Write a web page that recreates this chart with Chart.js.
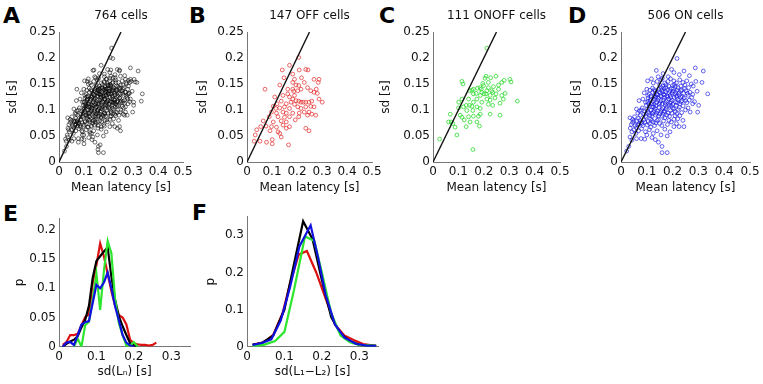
<!DOCTYPE html>
<html lang="en">
<head>
<meta charset="UTF-8">
<title>Latency variability</title>
<script src="https://cdn.jsdelivr.net/npm/chart.js@4.4.1/dist/chart.umd.min.js"></script>
<style>
  body { margin: 0; background: #fff; }
  #fig { position: relative; width: 763px; height: 384px; overflow: hidden; }
  #fig canvas { position: absolute; }
  .tag { position: absolute; font: bold 22px 'DejaVu Sans', sans-serif; line-height: 22px; color: #000; }
</style>
</head>
<body>
<div id="fig">
  <div class="tag" style="left:3px;top:5px">A</div>
  <div class="tag" style="left:189px;top:5px">B</div>
  <div class="tag" style="left:379px;top:5px">C</div>
  <div class="tag" style="left:568px;top:5px">D</div>
  <div class="tag" style="left:3px;top:203px">E</div>
  <div class="tag" style="left:192px;top:202px">F</div>
</div>

<script>
// [mean latency, sd] per cell
const offCells = [
  [0.170,0.186],[0.141,0.177],[0.207,0.201],[0.209,0.177],[0.235,0.178],[0.244,0.177],[0.183,0.169],[0.148,0.162],
  [0.190,0.159],[0.218,0.162],[0.072,0.140],[0.268,0.159],[0.288,0.159],[0.285,0.153],[0.183,0.153],[0.196,0.148],
  [0.207,0.147],[0.229,0.153],[0.131,0.148],[0.163,0.140],[0.183,0.140],[0.187,0.136],[0.203,0.137],[0.216,0.140],
  [0.242,0.143],[0.255,0.137],[0.268,0.134],[0.281,0.132],[0.277,0.140],[0.111,0.125],[0.144,0.128],[0.170,0.125],
  [0.190,0.128],[0.163,0.131],[0.196,0.118],[0.207,0.117],[0.216,0.115],[0.225,0.115],[0.235,0.115],[0.248,0.115],
  [0.259,0.117],[0.301,0.115],[0.288,0.121],[0.183,0.121],[0.176,0.115],[0.190,0.111],[0.157,0.112],[0.137,0.117],
  [0.120,0.112],[0.105,0.107],[0.115,0.103],[0.131,0.104],[0.150,0.106],[0.170,0.103],[0.203,0.106],[0.216,0.103],
  [0.235,0.106],[0.255,0.107],[0.268,0.106],[0.229,0.096],[0.248,0.096],[0.098,0.096],[0.118,0.094],[0.144,0.096],
  [0.157,0.094],[0.183,0.094],[0.209,0.094],[0.259,0.092],[0.275,0.090],[0.089,0.087],[0.124,0.087],[0.150,0.086],
  [0.170,0.087],[0.207,0.087],[0.242,0.090],[0.065,0.079],[0.105,0.077],[0.137,0.079],[0.157,0.077],[0.193,0.081],
  [0.055,0.068],[0.076,0.069],[0.098,0.068],[0.118,0.067],[0.144,0.071],[0.157,0.065],[0.170,0.068],[0.039,0.062],
  [0.092,0.060],[0.124,0.058],[0.235,0.065],[0.248,0.060],[0.033,0.052],[0.137,0.048],[0.029,0.040],[0.052,0.040],
  [0.078,0.038],[0.101,0.043],[0.101,0.035],[0.166,0.033],[0.131,0.055]
];

const onoffCells = [
  [0.212,0.219],[0.026,0.044],[0.094,0.052],[0.157,0.024],[0.114,0.155],[0.118,0.150],[0.144,0.137],[0.153,0.138],
  [0.159,0.131],[0.175,0.142],[0.196,0.151],[0.205,0.161],[0.227,0.162],[0.209,0.165],[0.231,0.137],[0.218,0.143],
  [0.212,0.137],[0.192,0.134],[0.186,0.128],[0.170,0.132],[0.199,0.147],[0.248,0.165],[0.280,0.157],[0.303,0.159],
  [0.307,0.154],[0.271,0.153],[0.258,0.148],[0.284,0.132],[0.271,0.128],[0.244,0.123],[0.225,0.128],[0.235,0.134],
  [0.248,0.131],[0.235,0.109],[0.218,0.111],[0.264,0.113],[0.277,0.121],[0.332,0.117],[0.192,0.115],[0.173,0.121],
  [0.159,0.115],[0.140,0.121],[0.131,0.109],[0.144,0.109],[0.120,0.106],[0.101,0.104],[0.133,0.099],[0.157,0.099],
  [0.186,0.092],[0.179,0.088],[0.225,0.092],[0.264,0.090],[0.107,0.090],[0.114,0.086],[0.140,0.087],[0.146,0.077],
  [0.173,0.077],[0.183,0.069],[0.131,0.068],[0.068,0.092],[0.071,0.077],[0.061,0.077],[0.087,0.067],[0.078,0.074],
  [0.123,0.081],[0.159,0.088],[0.101,0.115],[0.114,0.121],[0.159,0.140],[0.186,0.143],[0.218,0.153],[0.238,0.145],
  [0.201,0.131],[0.190,0.140],[0.209,0.131],[0.258,0.140],[0.225,0.119],[0.212,0.121],[0.173,0.106],[0.153,0.107],
  [0.186,0.103]
];

const onCells = [
  [0.217,0.199],[0.137,0.176],[0.144,0.164],[0.183,0.164],[0.244,0.175],[0.288,0.181],[0.319,0.175],[0.205,0.172],
  [0.226,0.168],[0.163,0.170],[0.196,0.178],[0.265,0.166],[0.103,0.156],[0.118,0.160],
  [0.125,0.152],[0.140,0.155],[0.155,0.158],[0.170,0.152],[0.182,0.155],[0.192,0.160],[0.205,0.156],[0.215,0.152],
  [0.228,0.158],[0.240,0.153],[0.255,0.156],[0.272,0.150],[0.290,0.155],[0.314,0.153],[0.150,0.148],[0.162,0.146],
  [0.175,0.149],[0.200,0.147],[0.210,0.145],[0.232,0.146],[0.248,0.148],[0.262,0.143],[0.280,0.146],[0.160,0.161],
  [0.100,0.140],[0.112,0.138],[0.122,0.142],[0.132,0.136],[0.145,0.140],[0.152,0.133],[0.158,0.138],[0.166,0.142],
  [0.172,0.135],[0.180,0.139],[0.187,0.133],[0.195,0.141],[0.202,0.136],[0.208,0.131],[0.218,0.138],[0.225,0.133],
  [0.235,0.139],[0.243,0.132],[0.252,0.137],[0.268,0.134],[0.278,0.130],[0.295,0.136],[0.336,0.131],[0.138,0.131],
  [0.165,0.130],[0.190,0.128],[0.215,0.127],[0.260,0.128],[0.090,0.133],[0.128,0.127],
  [0.070,0.118],[0.085,0.121],[0.095,0.115],[0.105,0.123],[0.113,0.118],[0.120,0.112],[0.130,0.120],[0.138,0.115],
  [0.146,0.123],[0.155,0.118],[0.160,0.112],[0.168,0.124],[0.176,0.117],[0.184,0.121],[0.190,0.113],[0.198,0.119],
  [0.206,0.124],[0.212,0.115],[0.220,0.120],[0.228,0.112],[0.237,0.118],[0.245,0.123],[0.255,0.114],[0.265,0.119],
  [0.285,0.116],[0.301,0.109],[0.148,0.111],[0.172,0.110],[0.195,0.108],[0.232,0.125],[0.110,0.108],[0.126,0.106],
  [0.060,0.102],[0.072,0.098],[0.082,0.104],[0.092,0.097],[0.100,0.101],[0.108,0.094],[0.117,0.100],[0.125,0.096],
  [0.133,0.103],[0.142,0.098],[0.150,0.093],[0.158,0.101],[0.166,0.096],[0.175,0.102],[0.183,0.094],[0.192,0.099],
  [0.200,0.104],[0.210,0.097],[0.222,0.101],[0.235,0.095],[0.250,0.100],[0.268,0.096],[0.297,0.096],[0.135,0.090],
  [0.160,0.088],[0.120,0.088],[0.210,0.089],[0.075,0.090],
  [0.035,0.085],[0.045,0.082],[0.052,0.087],[0.060,0.079],[0.068,0.084],[0.078,0.076],[0.088,0.081],[0.098,0.086],
  [0.105,0.078],[0.115,0.083],[0.125,0.077],[0.140,0.080],[0.150,0.074],[0.165,0.079],[0.180,0.072],[0.195,0.077],
  [0.215,0.074],[0.240,0.080],[0.040,0.072],[0.055,0.070],[0.070,0.073],[0.085,0.070],[0.130,0.070],[0.170,0.085],
  [0.220,0.083],
  [0.036,0.065],[0.042,0.058],[0.050,0.062],[0.058,0.055],[0.068,0.060],[0.080,0.064],[0.095,0.058],[0.110,0.062],
  [0.125,0.055],[0.140,0.060],[0.155,0.052],[0.170,0.063],[0.190,0.058],[0.205,0.068],[0.225,0.068],[0.244,0.068],
  [0.100,0.052],[0.115,0.067],[0.060,0.066],
  [0.022,0.021],[0.030,0.030],[0.042,0.042],[0.060,0.045],[0.078,0.045],[0.092,0.044],[0.133,0.043],[0.145,0.038],
  [0.159,0.030],[0.159,0.018],[0.179,0.018],[0.179,0.050],[0.120,0.047],[0.035,0.048],
  // denser core
  [0.104,0.128],[0.109,0.131],[0.116,0.126],[0.123,0.134],[0.129,0.139],[0.134,0.126],[0.141,0.129],[0.147,0.135],
  [0.153,0.127],[0.157,0.143],[0.163,0.135],[0.169,0.129],[0.174,0.143],[0.178,0.127],[0.185,0.146],[0.189,0.137],
  [0.193,0.124],[0.198,0.132],[0.203,0.141],[0.207,0.149],[0.212,0.134],[0.217,0.124],[0.221,0.143],[0.226,0.129],
  [0.231,0.137],[0.238,0.126],[0.246,0.141],[0.257,0.132],[0.274,0.124],
  [0.098,0.109],[0.103,0.116],[0.107,0.112],[0.115,0.121],[0.119,0.106],[0.124,0.116],[0.128,0.111],[0.133,0.124],
  [0.136,0.108],[0.142,0.119],[0.147,0.105],[0.151,0.114],[0.156,0.126],[0.162,0.104],[0.165,0.119],[0.171,0.114],
  [0.178,0.106],[0.181,0.125],[0.186,0.109],[0.194,0.116],[0.201,0.111],[0.205,0.102],[0.214,0.109],[0.219,0.114],
  [0.226,0.105],[0.233,0.116],[0.241,0.108],[0.250,0.118],[0.260,0.104],[0.278,0.112],
  [0.065,0.094],[0.078,0.100],[0.088,0.092],[0.096,0.088],[0.104,0.097],[0.112,0.090],[0.121,0.093],[0.129,0.099],
  [0.138,0.094],[0.145,0.088],[0.154,0.097],[0.162,0.092],[0.170,0.098],[0.178,0.090],[0.188,0.088],[0.197,0.094],
  [0.216,0.093],[0.228,0.089],[0.045,0.076],[0.050,0.079],[0.064,0.071],[0.074,0.080],[0.082,0.074],[0.092,0.077],
  [0.102,0.071],[0.110,0.074],[0.120,0.080],[0.135,0.075],[0.145,0.082],[0.158,0.070],[0.186,0.080],[0.205,0.082]
];

// panel A pools all cells
const allCells = offCells.concat(onoffCells, onCells);
const unityLine = [[0, 0], [0.25, 0.25]];

const latencyTicks = [0, 0.1, 0.2, 0.3, 0.4, 0.5];
const sdTicks = [0, 0.05, 0.1, 0.15, 0.2, 0.25];

// E: distribution of sd(Ln)
const eBins   = [0.01,0.02,0.03,0.04,0.05,0.06,0.07,0.08,0.09,0.10,0.11,0.12,0.13,0.14,0.15,0.16,0.17,0.18,0.19,0.20,0.21,0.22,0.23,0.24,0.25,0.26];
const eAll    = [0,0.005,0.009,0.012,0.018,0.033,0.046,0.07,0.118,0.147,0.155,0.163,0.17,0.12,0.08,0.052,0.035,0.02,0.006,0.002,0.001,null,null,null,null,null];
const eOff    = [0.003,0.008,0.02,0.02,0.022,0.037,0.051,0.055,0.11,0.14,0.177,0.155,0.125,0.095,0.07,0.054,0.05,0.038,0.012,0.006,0.004,0.003,0.003,0.002,0.003,0.007];
const eOnOff  = [null,null,null,0,0.014,0,0.037,0.043,0.08,0.125,0.063,0.13,0.181,0.16,0.08,0.04,0.02,0.002,0.002,0.008,0,null,null,null,null,null];
const eOn     = [0,0.007,0.008,0.003,0.02,0.038,0.042,0.044,0.075,0.106,0.1,0.11,0.127,0.1,0.069,0.045,0.02,0.007,0.002,0,null,null,null,null,null,null];
const eXTicks = [0, 0.1, 0.2, 0.3];
const eYTicks = [0, 0.05, 0.1, 0.15, 0.2];

// F: distribution of sd(L1-L2)
const fAllX   = [0.015,0.04,0.07,0.1,0.125,0.15,0.175,0.2,0.225,0.25,0.275,0.3,0.345];
const fAllP   = [0.005,0.01,0.03,0.1,0.22,0.338,0.29,0.18,0.08,0.035,0.015,0.005,0.002];
const fOffX   = [0.015,0.045,0.07,0.095,0.115,0.138,0.16,0.185,0.21,0.235,0.26,0.285,0.31,0.345];
const fOffP   = [0.006,0.012,0.032,0.09,0.17,0.248,0.258,0.2,0.13,0.06,0.03,0.018,0.007,0.002];
const fOnOffX = [0.015,0.045,0.075,0.1,0.125,0.155,0.18,0.2,0.225,0.25,0.275,0.3,0.345];
const fOnOffP = [0.002,0.005,0.015,0.04,0.15,0.297,0.285,0.2,0.09,0.03,0.012,0.005,0.002];
const fOnX    = [0.015,0.04,0.065,0.09,0.115,0.14,0.17,0.19,0.21,0.235,0.26,0.29,0.32,0.345];
const fOnP    = [0.005,0.01,0.02,0.07,0.16,0.27,0.327,0.24,0.14,0.06,0.025,0.008,0.003,0.002];
const fXTicks = [0, 0.1, 0.2, 0.3];
const fYTicks = [0, 0.1, 0.2, 0.3];

const BLACK = 'rgba(0,0,0,0.62)', RED = 'rgba(225,25,25,0.72)', GREEN = 'rgba(40,215,40,0.85)', BLUE = 'rgba(20,20,225,0.72)';
const font12 = { family: 'DejaVu Sans', size: 12 };

function fmt(v) { return String(Math.round(v * 1000) / 1000); }
function pts(pairs) { return pairs.map(p => ({ x: p[0], y: p[1] })); }
function xy(xs, ys) { return xs.map((x, i) => ({ x: x, y: ys[i] })); }

// panel title centred over the plot area
const panelTitle = {
  id: 'panelTitle',
  afterDraw(chart, args, opts) {
    if (!opts.text) return;
    const { ctx, chartArea } = chart;
    ctx.save();
    ctx.font = '12px "DejaVu Sans"';
    ctx.fillStyle = '#111';
    ctx.textAlign = 'center';
    ctx.textBaseline = 'middle';
    ctx.fillText(opts.text, (chartArea.left + chartArea.right) / 2, opts.y);
    ctx.restore();
  }
};

function axis(kind, max, tickVals, label, size, pad) {
  return {
    type: 'linear', min: 0, max: max,
    border: { display: true, color: '#777', width: 1 },
    grid: { display: false, drawTicks: false },
    ticks: { color: '#111', font: font12, padding: 3, autoSkip: false, maxRotation: 0, callback: fmt },
    afterBuildTicks: s => { s.ticks = tickVals.map(v => ({ value: v })); },
    afterFit: s => { if (kind === 'x') s.height = size; else s.width = size; },
    title: {
      display: true, text: label, color: '#111', font: font12,
      padding: kind === 'x' ? { top: 0, bottom: pad } : { top: pad, bottom: 0 }
    }
  };
}

function scatterSet(pairs, color) {
  return { data: pts(pairs), borderColor: color, backgroundColor: 'rgba(0,0,0,0)', pointRadius: 1.9, pointBorderWidth: 0.9 };
}
function lineSet(data, color, w) {
  return { data: data, showLine: true, borderColor: color, borderWidth: w, pointRadius: 0, tension: 0, spanGaps: false, fill: false };
}

function panel(p) {
  const cv = document.createElement('canvas');
  const yW = 59, padR = 14;
  const left = p.l - yW;
  const w = Math.round(p.r - p.l + yW + padR);
  const h = p.canvasH;
  cv.width = w; cv.height = h;
  cv.style.left = left + 'px'; cv.style.top = p.canvasTop + 'px';
  document.getElementById('fig').appendChild(cv);
  const xH = p.canvasTop + h - p.b;
  new Chart(cv, {
    type: 'scatter',
    data: { datasets: p.datasets },
    plugins: [panelTitle],
    options: {
      responsive: false, animation: false, devicePixelRatio: 1,
      layout: { padding: { top: p.t - p.canvasTop, right: padR, bottom: 0, left: 0 } },
      plugins: {
        legend: { display: false }, tooltip: { enabled: false }, title: { display: false },
        panelTitle: { text: p.title || '', y: 16 }
      },
      scales: {
        x: axis('x', p.xMax, p.xTicks, p.xLabel, xH, 4.8),
        y: axis('y', p.yMax, p.yTicks, p.yLabel, yW, p.yTitleX - 7.2)
      }
    }
  });
}

const topRow = { canvasTop: 0, canvasH: 200, t: 32, b: 162, xMax: 0.5, yMax: 0.25, xTicks: latencyTicks, yTicks: sdTicks, xLabel: 'Mean latency [s]', yLabel: 'sd [s]' };

panel(Object.assign({}, topRow, { l: 58.5, r: 182.8, title: '764 cells', yTitleX: 13,
  datasets: [lineSet(pts(unityLine), '#111', 1.4), scatterSet(allCells, BLACK)] }));
panel(Object.assign({}, topRow, { l: 247, r: 371.7, title: '147 OFF cells', yTitleX: 15,
  datasets: [lineSet(pts(unityLine), '#111', 1.4), scatterSet(offCells, RED)] }));
panel(Object.assign({}, topRow, { l: 433.3, r: 560, title: '111 ONOFF cells', yTitleX: 12,
  datasets: [lineSet(pts(unityLine), '#111', 1.4), scatterSet(onoffCells, GREEN)] }));
panel(Object.assign({}, topRow, { l: 620.7, r: 750, title: '506 ON cells', yTitleX: 14.5,
  datasets: [lineSet(pts(unityLine), '#111', 1.4), scatterSet(onCells, BLUE)] }));

panel({ canvasTop: 200, canvasH: 184, l: 59, r: 189.5, t: 218.3, b: 346.7, xMax: 0.35, yMax: 0.22,
  xTicks: eXTicks, yTicks: eYTicks, xLabel: 'sd(Lₙ) [s]', yLabel: 'p', yTitleX: 20,
  datasets: [
    lineSet(xy(eBins, eOn), '#1010e0', 2.2),
    lineSet(xy(eBins, eOnOff), '#2ee62e', 2.2),
    lineSet(xy(eBins, eAll), '#000', 2.2),
    lineSet(xy(eBins, eOff), '#dd1111', 2.2)
  ] });

panel({ canvasTop: 200, canvasH: 184, l: 246.5, r: 377, t: 216.8, b: 346.7, xMax: 0.35, yMax: 0.35,
  xTicks: fXTicks, yTicks: fYTicks, xLabel: 'sd(L₁−L₂) [s]', yLabel: 'p', yTitleX: 22.5,
  datasets: [
    lineSet(xy(fOnX, fOnP), '#1010e0', 2.2),
    lineSet(xy(fOnOffX, fOnOffP), '#2ee62e', 2.2),
    lineSet(xy(fAllX, fAllP), '#000', 2.2),
    lineSet(xy(fOffX, fOffP), '#dd1111', 2.2)
  ] });
</script>
</body>
</html>
